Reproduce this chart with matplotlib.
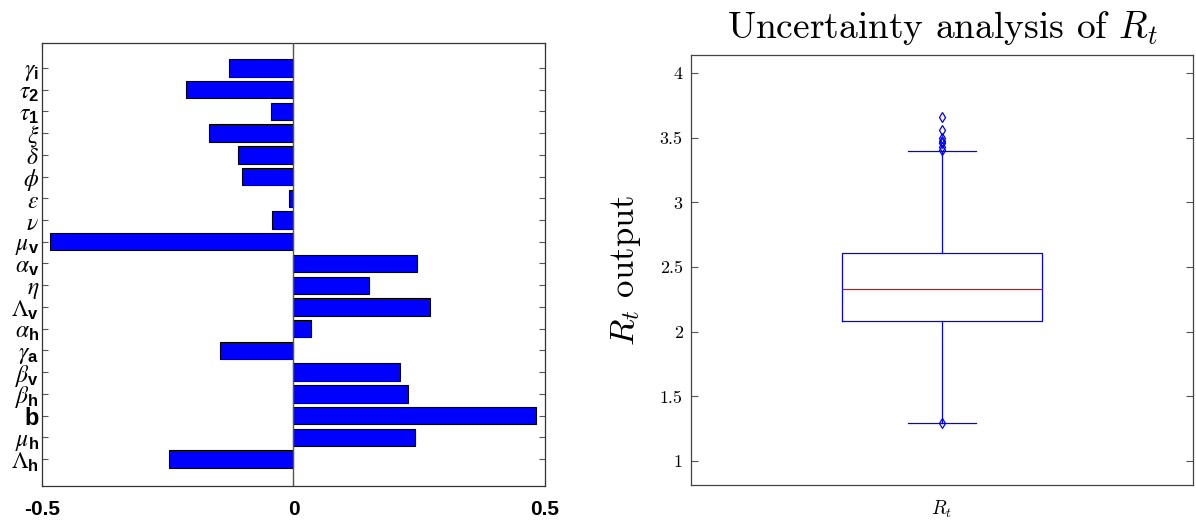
import matplotlib
matplotlib.use('Agg')
import numpy as np
import matplotlib.pyplot as plt

plt.rcParams['mathtext.fontset'] = 'cm'
plt.rcParams['mathtext.rm'] = 'STIXGeneral'
plt.rcParams['mathtext.it'] = 'STIXGeneral:italic'
plt.rcParams['mathtext.bf'] = 'Liberation Sans:bold'
plt.rcParams['axes.unicode_minus'] = False

## Sensitivity indices (bottom to top)
param_labels = [r'$\Lambda_{\mathbf{h}}$', r'$\mu_{\mathbf{h}}$', r'$\mathbf{b}$',
                r'$\beta_{\mathbf{h}}$', r'$\beta_{\mathbf{v}}$', r'$\gamma_{\mathbf{a}}$',
                r'$\alpha_{\mathbf{h}}$', r'$\Lambda_{\mathbf{v}}$', r'$\eta$',
                r'$\alpha_{\mathbf{v}}$', r'$\mu_{\mathbf{v}}$', r'$\nu$', r'$\epsilon$',
                r'$\phi$', r'$\delta$', r'$\xi$', r'$\tau_{\mathbf{1}}$',
                r'$\tau_{\mathbf{2}}$', r'$\gamma_{\mathbf{i}}$']
prcc_values = [-0.248, 0.242, 0.482, 0.228, 0.212, -0.146, 0.035, 0.271, 0.150,
               0.245, -0.484, -0.043, -0.009, -0.102, -0.110, -0.168, -0.045,
               -0.214, -0.128]
xtick_vals = [-0.5, 0, 0.5]
xtick_labels = ['-0.5', '0', '0.5']

## Rt box plot summary
rt_q1 = 2.085
rt_median = 2.330
rt_q3 = 2.612
rt_whislo = 1.295
rt_whishi = 3.400
rt_fliers = [1.293, 3.408, 3.430, 3.456, 3.477, 3.496, 3.560, 3.662]
rt_yticks = [1, 1.5, 2, 2.5, 3, 3.5, 4]
rt_yticklabels = ['1', '1.5', '2', '2.5', '3', '3.5', '4']

fig = plt.figure(figsize=(11.96, 5.22), dpi=100)

# left: tornado-style bar chart
ax1 = fig.add_axes([0.0351, 0.069, 0.4206, 0.8487])
pos = np.arange(1, len(prcc_values) + 1)
ax1.barh(pos, prcc_values, height=0.8, color='#0000ff', edgecolor='black', linewidth=0.8, zorder=2)
ax1.axvline(0, color='#555555', linewidth=1.0, zorder=3)
ax1.set_xlim(-0.5, 0.5)
ax1.set_ylim(-0.24, 20.15)
ax1.set_yticks(pos)
ax1.set_yticklabels(param_labels, fontsize=17)
for lbl in ax1.get_yticklabels():
    lbl.set_math_fontfamily('custom')
ax1.set_xticks(xtick_vals)
ax1.set_xticklabels(xtick_labels, fontsize=15, fontweight='bold', family='Liberation Sans')
ax1.tick_params(axis='y', direction='in', length=4, color='#555555', right=True, pad=2)
ax1.tick_params(axis='x', direction='in', length=4, color='#555555', top=True, pad=10)
for sp in ax1.spines.values():
    sp.set_color('#333333')
    sp.set_linewidth(0.9)

# right: box plot of Rt
ax2 = fig.add_axes([0.5778, 0.0709, 0.4197, 0.8238])
stats = [{'med': rt_median, 'q1': rt_q1, 'q3': rt_q3, 'whislo': rt_whislo,
          'whishi': rt_whishi, 'fliers': rt_fliers, 'label': r'$R_t$'}]
ax2.bxp(stats, positions=[1], widths=0.4, capwidths=0.134, showfliers=True,
        boxprops=dict(color='#0000ff', linewidth=0.9),
        whiskerprops=dict(color='#0000ff', linewidth=0.9),
        capprops=dict(color='#0000ff', linewidth=0.9),
        medianprops=dict(color='#ff0000', linewidth=0.9),
        flierprops=dict(marker='d', markerfacecolor='none', markeredgecolor='#0000ff',
                        markersize=5, markeredgewidth=0.9))
ax2.set_xlim(0.5, 1.5)
ax2.set_ylim(0.815, 4.14)
ax2.set_yticks(rt_yticks)
ax2.set_yticklabels(rt_yticklabels, fontsize=13, family='cmr10')
ax2.tick_params(axis='x', length=0, labelsize=14, pad=10)
ax2.tick_params(axis='y', direction='in', length=5, color='#555555', right=True, pad=6)
ax2.set_ylabel(r'$R_t$ output', fontsize=25, family='cmr10', labelpad=12)
ax2.set_title(r'Uncertainty analysis of $R_t$', fontsize=27, family='cmr10', pad=12)
for sp in ax2.spines.values():
    sp.set_color('#444444')
    sp.set_linewidth(0.9)

fig.savefig('out.png', dpi=100)
